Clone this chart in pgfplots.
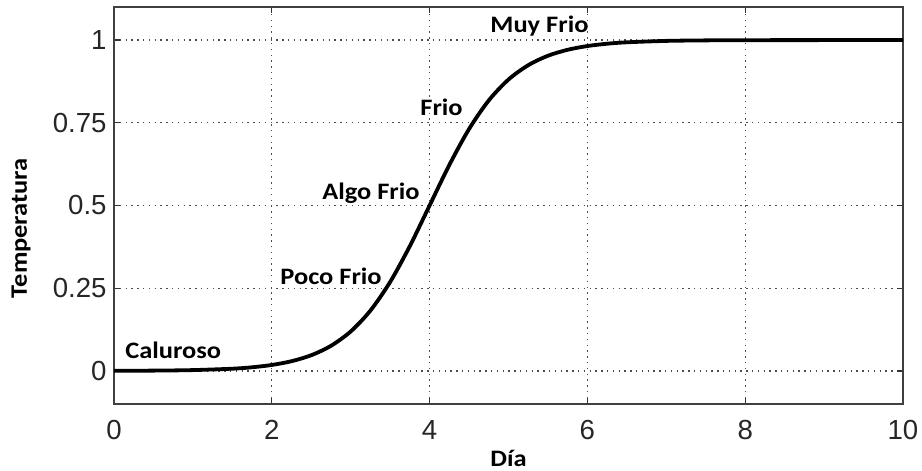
\documentclass[border=0pt]{standalone}
\usepackage{pgfplots}
\pgfplotsset{compat=1.18}
\usepackage{fontspec}
\setmainfont{Liberation Sans}
\newfontfamily\calib{Carlito}
\newcommand{\ann}[1]{\scalebox{1.12}[1]{#1}}
\begin{document}
\begin{tikzpicture}
\useasboundingbox (-57pt,-33.5pt) rectangle (404pt,202pt);
\begin{axis}[
  scale only axis,
  width=394.5pt, height=198.5pt,
  xmin=0, xmax=10, ymin=-0.1, ymax=1.1,
  xtick={0,2,4,6,8,10},
  ytick={0,0.25,0.5,0.75,1},
  yticklabels={0,0.25,0.5,0.75,1},
  xticklabels={0,2,4,6,8,10},
  tick align=inside,
  major tick length=3pt,
  tick style={black!80, line width=0.6pt},
  axis line style={black!75, line width=0.8pt},
  grid=major,
  grid style={black!70, line width=0.7pt, dash pattern=on 0.7pt off 2.2pt on 0.7pt off 2.2pt},
  ticklabel style={font=\fontsize{13.8}{16}\selectfont, inner sep=0pt, text=black!85},
  xticklabel style={anchor=north, yshift=-8pt},
  yticklabel style={anchor=east, xshift=-3.5pt},
  xlabel={\ann{Día}},
  ylabel={\ann{Temperatura}},
  label style={font=\calib\bfseries\fontsize{11.8}{14}\selectfont},
  xlabel style={at={(rel axis cs:0.5,0)}, anchor=center, yshift=-27pt},
  ylabel style={at={(rel axis cs:0,0.443)}, anchor=center, yshift=46.5pt},
  /pgf/number format/assume math mode=true,
  clip=false,
]
\addplot[black, line width=1.9pt, smooth] table {
x y
0 0.000335
0.5 0.000911
1 0.002473
1.5 0.006693
1.75 0.01099
2 0.01799
2.25 0.02931
2.5 0.04743
2.75 0.07586
3 0.1192
3.25 0.1824
3.5 0.2689
3.75 0.3775
4 0.5
4.25 0.6225
4.5 0.7311
4.75 0.8176
5 0.8808
5.25 0.9241
5.5 0.9526
5.75 0.9707
6 0.9820
6.25 0.9890
6.5 0.9933
7 0.99753
7.5 0.99909
8 0.99966
9 0.99995
10 1.0
};
\tikzset{annot/.style={anchor=base west, inner sep=0pt, font=\calib\bfseries\fontsize{11.8}{14}\selectfont}}
\node[annot] at (axis cs:0.139,0.039) {\ann{Caluroso}};
\node[annot] at (axis cs:2.104,0.260) {\ann{Poco Frio}};
\node[annot] at (axis cs:2.636,0.517) {\ann{Algo Frio}};
\node[annot] at (axis cs:3.878,0.773) {\ann{Frio}};
\node[annot] at (axis cs:4.766,1.023) {\ann{Muy Frio}};
\end{axis}
\end{tikzpicture}
\end{document}
